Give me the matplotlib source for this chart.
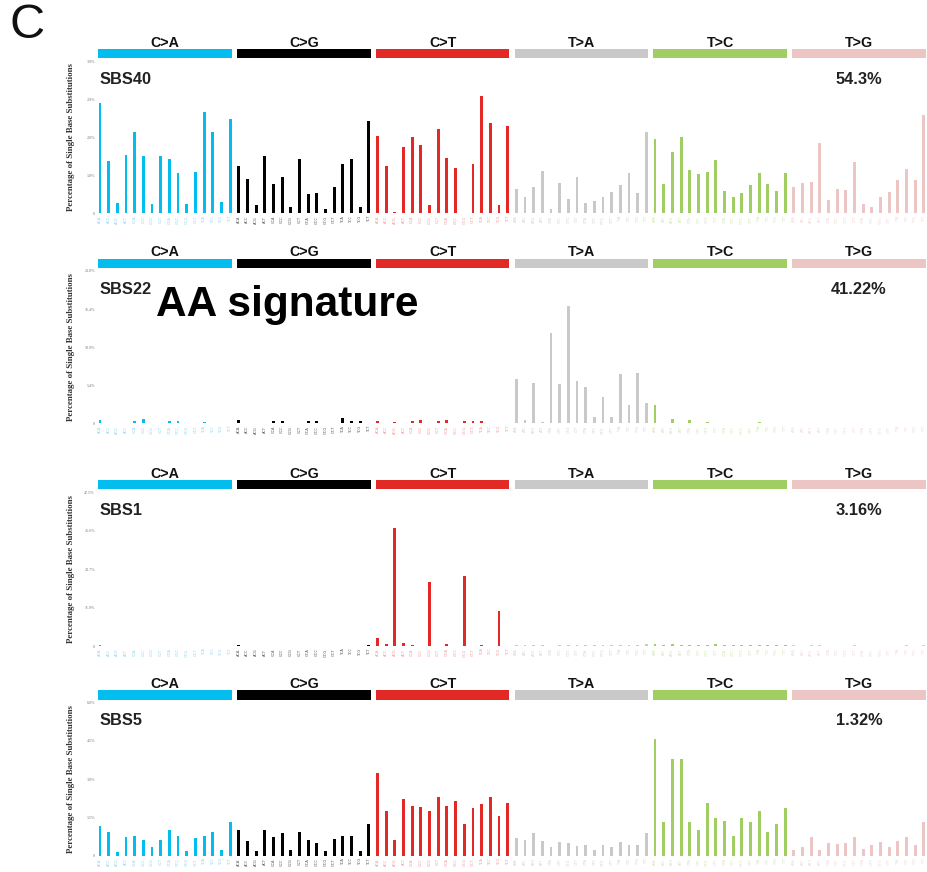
import numpy as np
import matplotlib
matplotlib.use("Agg")
import matplotlib.pyplot as plt
from matplotlib.patches import Rectangle
import matplotlib.transforms as mtransforms

# ---------------- data ----------------
mut_types = ["C>A", "C>G", "C>T", "T>A", "T>C", "T>G"]
mut_colors = ["#03BDEE", "#010101", "#E32926", "#CAC9C9", "#A1CE63", "#EBC6C4"]
tick_label_colors = ["#8fd3ee", "#555555", "#ec9a98", "#d3d3d3", "#cfe6b0", "#f0d6d4"]
bases = ["A", "C", "G", "T"]

signatures = ["SBS40", "SBS22", "SBS1", "SBS5"]
contributions = ["54.3%", "41.22%", "3.16%", "1.32%"]
ymaxes = [3.9, 21.8, 47.5, 6.0]
ytick_labels = [
    ["0", "1.0%", "2.0%", "2.9%", "3.9%"],
    ["0", "5.4%", "10.9%", "16.4%", "21.8%"],
    ["0", "11.9%", "23.7%", "35.6%", "47.5%"],
    ["0", "1.5%", "3.0%", "4.5%", "6.0%"],
]

sbs40 = [
    2.82, 1.34, 0.27, 1.49, 2.07, 1.47, 0.24, 1.47, 1.40, 1.02, 0.24, 1.07, 2.59, 2.09, 0.30, 2.41,
    1.22, 0.87, 0.21, 1.47, 0.75, 0.92, 0.15, 1.38, 0.49, 0.53, 0.11, 0.68, 1.25, 1.40, 0.15, 2.37,
    1.98, 1.22, 0.03, 1.70, 1.96, 1.75, 0.22, 2.16, 1.42, 1.17, 0.02, 1.27, 3.00, 2.32, 0.21, 2.24,
    0.61, 0.43, 0.67, 1.09, 0.10, 0.77, 0.36, 0.94, 0.26, 0.32, 0.43, 0.55, 0.73, 1.02, 0.53, 2.09,
    1.89, 0.74, 1.58, 1.96, 1.11, 1.00, 1.05, 1.37, 0.57, 0.43, 0.53, 0.73, 1.02, 0.75, 0.58, 1.02,
    0.68, 0.77, 0.81, 1.81, 0.34, 0.61, 0.60, 1.31, 0.24, 0.17, 0.43, 0.55, 0.84, 1.13, 0.85, 2.52,
]
sbs22 = [
    0.5, 0.05, 0.05, 0.05, 0.4, 0.6, 0.05, 0.05, 0.4, 0.3, 0.05, 0.05, 0.2, 0.05, 0.05, 0.05,
    0.5, 0.05, 0.05, 0.05, 0.3, 0.3, 0.05, 0.05, 0.3, 0.3, 0.05, 0.05, 0.7, 0.4, 0.3, 0.05,
    0.3, 0.05, 0.2, 0.05, 0.4, 0.5, 0.05, 0.4, 0.5, 0.05, 0.3, 0.3, 0.3, 0.05, 0.05, 0.05,
    6.3, 0.5, 5.8, 0.2, 12.9, 5.6, 16.8, 6.0, 5.2, 0.95, 3.8, 0.95, 7.1, 2.6, 7.2, 2.9,
    2.6, 0.1, 0.6, 0.1, 0.5, 0.1, 0.25, 0.05, 0.05, 0.05, 0.1, 0.05, 0.25, 0.05, 0.05, 0.05,
    0.05, 0.05, 0.05, 0.05, 0.05, 0.05, 0.05, 0.05, 0.05, 0.05, 0.05, 0.05, 0.05, 0.05, 0.05, 0.05,
]
sbs1 = [
    0.2, 0.1, 0.05, 0.1, 0.1, 0.05, 0.05, 0.1, 0.1, 0.05, 0.05, 0.1, 0.1, 0.05, 0.05, 0.1,
    0.3, 0.05, 0.05, 0.05, 0.05, 0.05, 0.05, 0.05, 0.05, 0.05, 0.05, 0.05, 0.05, 0.05, 0.05, 0.3,
    2.4, 0.6, 36.5, 1.0, 0.3, 0.1, 19.6, 0.1, 0.5, 0.1, 21.6, 0.1, 0.2, 0.1, 10.9, 0.1,
    0.3, 0.2, 0.3, 0.4, 0.1, 0.3, 0.2, 0.3, 0.2, 0.2, 0.2, 0.3, 0.3, 0.4, 0.2, 0.5,
    0.6, 0.3, 0.7, 0.4, 0.3, 0.3, 0.4, 0.5, 0.3, 0.2, 0.3, 0.4, 0.4, 0.3, 0.3, 0.4,
    0.2, 0.1, 0.2, 0.3, 0.1, 0.1, 0.1, 0.2, 0.1, 0.1, 0.1, 0.1, 0.1, 0.2, 0.1, 0.3,
]
sbs5 = [
    1.17, 0.94, 0.16, 0.74, 0.77, 0.61, 0.35, 0.61, 1.00, 0.78, 0.18, 0.68, 0.78, 0.91, 0.22, 1.30,
    1.00, 0.57, 0.18, 1.00, 0.72, 0.90, 0.22, 0.94, 0.61, 0.48, 0.18, 0.65, 0.77, 0.77, 0.18, 1.24,
    3.22, 1.76, 0.61, 2.20, 1.94, 1.89, 1.75, 2.30, 1.94, 2.14, 1.24, 1.85, 2.04, 2.28, 1.56, 2.07,
    0.68, 0.61, 0.90, 0.59, 0.35, 0.55, 0.50, 0.38, 0.42, 0.22, 0.42, 0.33, 0.55, 0.42, 0.42, 0.87,
    4.56, 1.33, 3.78, 3.78, 1.33, 1.00, 2.07, 1.48, 1.37, 0.78, 1.48, 1.33, 1.75, 0.94, 1.24, 1.85,
    0.22, 0.35, 0.74, 0.22, 0.51, 0.46, 0.48, 0.74, 0.26, 0.42, 0.55, 0.35, 0.59, 0.74, 0.42, 1.33,
]
profiles = [sbs40, sbs22, sbs1, sbs5]

contexts = []
for mt in mut_types:
    for b1 in bases:
        for b2 in bases:
            contexts.append(b1 + mt[0] + b2)

# ---------------- layout ----------------
W, H = 927, 872
fig = plt.figure(figsize=(W / 100, H / 100), dpi=100)
fig.patch.set_facecolor("white")

left_px = 95.66
width_px = 832.6
panels_px = [(61, 213.3), (271, 423.3), (492, 646), (702.3, 855.7)]

SANS = "Liberation Sans"
SERIF = "Liberation Serif"

for p, (top, bot) in enumerate(panels_px):
    hpx = bot - top
    ax = fig.add_axes([left_px / W, 1 - bot / H, width_px / W, hpx / H])
    vals = profiles[p]
    colors = [mut_colors[i // 16] for i in range(96)]
    ax.bar(np.arange(96), vals, width=0.33, color=colors, linewidth=0)
    ax.set_xlim(-0.5, 95.5)
    ax.set_ylim(0, ymaxes[p])
    for s in ax.spines.values():
        s.set_visible(False)

    ax.set_yticks(np.linspace(0, ymaxes[p], 5))
    ax.set_yticklabels(ytick_labels[p], fontsize=3, color="#777777", family=SERIF)
    ax.tick_params(axis="y", length=0, pad=0.5)

    ax.set_xticks(np.arange(96))
    ax.set_xticklabels(contexts, rotation=90, fontsize=2.6, family="DejaVu Sans")
    for i, t in enumerate(ax.get_xticklabels()):
        t.set_color(tick_label_colors[i // 16])
    ax.tick_params(axis="x", length=0, pad=1.8)

    ax.set_ylabel("Percentage of Single Base Substitutions", family=SERIF,
                  fontsize=6.4, fontweight="bold", color="#333333")
    ax.yaxis.set_label_coords((75 - left_px) / width_px, 0.5)

    trans = mtransforms.blended_transform_factory(ax.transData, ax.transAxes)
    for g in range(6):
        ax.add_patch(Rectangle((g * 16 - 0.2, 1 + 2.7 / hpx), 15.4, 9.3 / hpx,
                               transform=trans, color=mut_colors[g], clip_on=False,
                               linewidth=0))
        ax.text(g * 16 + 7.5, 1 + 18.5 / hpx, mut_types[g], transform=trans,
                ha="center", va="center", fontsize=10.3, fontweight="bold",
                family=SANS, color="#111111")

    ax.text(-0.1, 1 - 18.5 / hpx, signatures[p], transform=trans, ha="left",
            va="center", fontsize=11.8, fontweight="bold", family=SANS, color="#222222")
    ax.text(87.5, 1 - 18.5 / hpx, contributions[p], transform=trans, ha="center",
            va="center", fontsize=11.8, fontweight="bold", family=SANS, color="#222222")

fig.text(10 / W, 1 - 26 / H, "C", fontsize=35, family=SANS, ha="left", va="center",
         color="#111111")
fig.text(156 / W, 1 - 305 / H, "AA signature", fontsize=30.5, fontweight="bold",
         family=SANS, ha="left", va="center", color="#000000")

fig.savefig("out.png", dpi=100, facecolor="white")
